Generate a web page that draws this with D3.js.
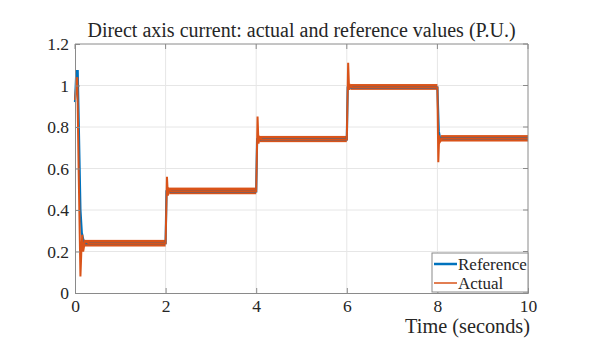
<!DOCTYPE html>
<html><head><meta charset="utf-8">
<script src="https://cdn.jsdelivr.net/npm/d3@7"></script>
<style>body{margin:0;background:#fff}svg{display:block}text{font-family:"Liberation Serif","Times New Roman",serif;fill:#262626}</style>
</head><body><svg id="c" width="604" height="357"></svg>
<script>
const xTicks = [0, 2, 4, 6, 8, 10];
const yTicks = [0, 0.2, 0.4, 0.6, 0.8, 1, 1.2];
const refT = [0, 0.03, 0.06, 0.12, 0.15, 0.2, 2.0, 2.02, 4.0, 4.02, 6.0, 6.02, 8.0, 8.03, 8.06, 10];
const refV = [0.92, 1.07, 1.07, 0.4, 0.29, 0.24, 0.24, 0.49, 0.49, 0.74, 0.74, 0.99, 0.99, 0.78, 0.745, 0.745];
const actT = [0, 0.02, 0.05, 0.08, 0.12, 0.14, 0.16, 0.18, 0.22, 0.3, 2.0, 2.03, 2.05, 2.08, 2.12, 4.0, 4.03, 4.05, 4.08, 4.12, 6.0, 6.03, 6.05, 6.08, 6.12, 8.0, 8.02, 8.04, 8.06, 8.1, 10];
const actV = [0.93, 0.98, 1.04, 0.6, 0.08, 0.2, 0.28, 0.2, 0.25, 0.24, 0.24, 0.56, 0.47, 0.5, 0.49, 0.49, 0.85, 0.72, 0.75, 0.74, 0.74, 1.11, 0.98, 1.0, 0.99, 0.99, 0.63, 0.76, 0.73, 0.745, 0.745];
// noise envelope of the actual trace in steady state: start, end, low, high
const bandStart = [0.2, 2.08, 4.08, 6.08, 8.08];
const bandEnd = [2.0, 4.0, 6.0, 8.0, 10];
const bandLo = [0.224, 0.476, 0.727, 0.979, 0.73];
const bandHi = [0.256, 0.508, 0.757, 1.007, 0.761];
const title = "Direct axis current: actual and reference values (P.U.)";
const xLabel = "Time (seconds)";
const legendNames = ["Reference", "Actual"];
const colors = ["#0072BD", "#D95319"];

const svg = d3.select("#c");
const L = 75, R = 528, T = 44, B = 293;
const x = d3.scaleLinear().domain([0, 10]).range([L, R]);
const y = d3.scaleLinear().domain([0, 1.2]).range([B, T]);
const serif = "'Liberation Serif', 'Times New Roman', serif";

// grid
svg.append("g").selectAll("line").data(xTicks.slice(1, -1)).join("line")
  .attr("x1", d => x(d)).attr("x2", d => x(d)).attr("y1", T).attr("y2", B)
  .attr("stroke", "#e6e6e6").attr("stroke-width", 1);
svg.append("g").selectAll("line").data(yTicks.slice(1, -1)).join("line")
  .attr("y1", d => y(d)).attr("y2", d => y(d)).attr("x1", L).attr("x2", R)
  .attr("stroke", "#e6e6e6").attr("stroke-width", 1);

// noise bands
const bands = bandStart.map((s, i) => ({s, e: bandEnd[i], lo: bandLo[i], hi: bandHi[i]}));
svg.append("g").selectAll("rect").data(bands).join("rect")
  .attr("x", d => x(d.s)).attr("width", d => x(d.e) - x(d.s))
  .attr("y", d => y(d.hi)).attr("height", d => y(d.lo) - y(d.hi))
  .attr("fill", colors[1]);

const line = d3.line().x(d => x(d[0])).y(d => y(d[1]));
svg.append("path").datum(refT.map((t, i) => [t, refV[i]])).attr("d", line)
  .attr("fill", "none").attr("stroke", colors[0]).attr("stroke-width", 2.2);
svg.append("path").datum(actT.map((t, i) => [t, actV[i]])).attr("d", line)
  .attr("fill", "none").attr("stroke", colors[1]).attr("stroke-width", 2);

// axes
const ax = svg.append("g").attr("transform", `translate(0,${B})`)
  .call(d3.axisBottom(x).tickValues(xTicks).tickSize(-5).tickPadding(9).tickFormat(d3.format("d")));
const ay = svg.append("g").attr("transform", `translate(${L},0)`)
  .call(d3.axisLeft(y).tickValues(yTicks).tickSize(-5).tickPadding(6).tickFormat(d => String(d)));
[ax, ay].forEach(g => {
  g.attr("font-family", serif).attr("font-size", 17.5);
  g.select(".domain").attr("stroke", "#8a8a8a");
  g.selectAll(".tick line").attr("stroke", "#8a8a8a");
  g.selectAll(".tick text").attr("fill", "#262626").attr("font-family", serif);
});
ax.selectAll(".tick text").attr("dy", "0.55em");
// top & right box
svg.append("line").attr("x1", L).attr("x2", R).attr("y1", T).attr("y2", T).attr("stroke", "#8a8a8a");
svg.append("line").attr("x1", R).attr("x2", R).attr("y1", T).attr("y2", B).attr("stroke", "#8a8a8a");
svg.append("g").selectAll("line").data(xTicks).join("line")
  .attr("x1", d => x(d)).attr("x2", d => x(d)).attr("y1", T).attr("y2", T + 5).attr("stroke", "#8a8a8a");
svg.append("g").selectAll("line").data(yTicks).join("line")
  .attr("y1", d => y(d)).attr("y2", d => y(d)).attr("x1", R).attr("x2", R - 5).attr("stroke", "#8a8a8a");

// titles
svg.append("text").attr("x", 301.5).attr("y", 37).attr("text-anchor", "middle")
  .attr("font-size", 20).text(title);
svg.append("text").attr("x", 530).attr("y", 333).attr("text-anchor", "end")
  .attr("font-size", 20.3).text(xLabel);

// legend
const lg = svg.append("g");
lg.append("rect").attr("x", 432).attr("y", 253).attr("width", 96).attr("height", 39)
  .attr("fill", "#fff").attr("stroke", "#8a8a8a");
legendNames.forEach((n, i) => {
  const yy = 264 + i * 19;
  lg.append("line").attr("x1", 434).attr("x2", 457).attr("y1", yy).attr("y2", yy)
    .attr("stroke", colors[i]).attr("stroke-width", i === 0 ? 2.5 : 1.5);
  lg.append("text").attr("x", 458).attr("y", yy + 6).attr("font-size", 17).text(n);
});
</script></body></html>
